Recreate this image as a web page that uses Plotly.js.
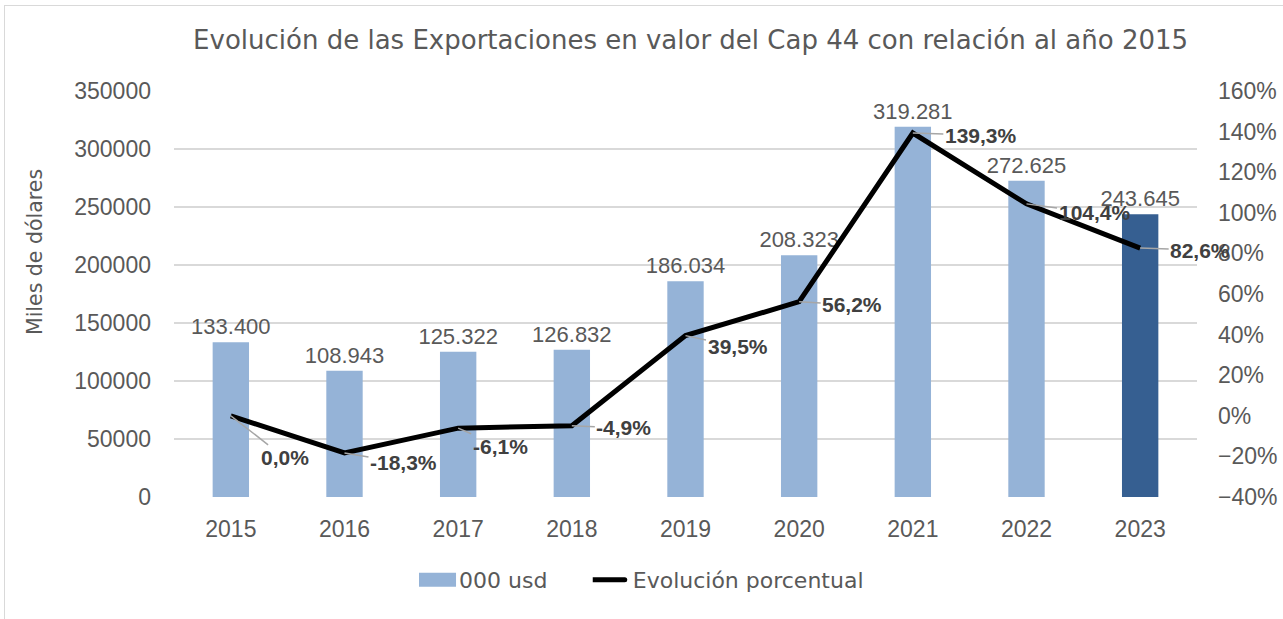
<!DOCTYPE html>
<html>
<head>
<meta charset="utf-8">
<script src="https://cdn.plot.ly/plotly-3.0.1.min.js"></script>
<style>
html,body{margin:0;padding:0;background:#fff;overflow:hidden;}
#wrap{position:absolute;left:0;top:0;width:1283px;height:619px;overflow:hidden;}
#frame{position:absolute;left:4px;top:5px;width:1400px;height:700px;border:1px solid #d9d9d9;box-sizing:border-box;pointer-events:none;}
#chart{position:absolute;left:0;top:0;width:1283px;height:619px;}
</style>
</head>
<body>
<div id="wrap"><div id="chart"></div><div id="frame"></div></div>
<script>
const years = [2015, 2016, 2017, 2018, 2019, 2020, 2021, 2022, 2023];
const valores = [133400, 108943, 125322, 126832, 186034, 208323, 319281, 272625, 243645];
const evolucion = [0.000, -0.183, -0.061, -0.049, 0.395, 0.562, 1.393, 1.044, 0.826];
const labelOffsetX = [54, 59, 42, 52, 52, 53, 68, 68, 60];
const labelOffsetY = [42, 10, 18, 2, 11, 3, 2, 9, 2];

const NUMFONT = '"Liberation Sans", Arial, sans-serif';
const TXTFONT = '"DejaVu Sans", sans-serif';
const GRAY = '#595959';

const barColors = valores.map((v, i) => i === valores.length - 1 ? '#365F91' : '#95B3D7');

const bars = {
  type: 'bar', name: '000 usd', x: years, y: valores,
  marker: {color: barColors},
  width: 0.32,
  texttemplate: '%{y:,.0f}', textposition: 'outside', constraintext: 'none',
  textfont: {family: NUMFONT, size: 22, color: GRAY},
  cliponaxis: false,
  legend: 'legend',
  hoverinfo: 'none'
};
const line = {
  type: 'scatter', mode: 'lines', name: 'Evolución porcentual',
  x: years, y: evolucion, yaxis: 'y2',
  line: {color: '#000000', width: 5},
  legend: 'legend2',
  hoverinfo: 'none'
};

const annotations = years.map((yr, i) => ({
  x: yr, y: evolucion[i], xref: 'x', yref: 'y2',
  text: '<b>' + (evolucion[i] * 100).toFixed(1).replace('.', ',') + '%</b>',
  showarrow: true, arrowhead: 0, arrowwidth: 1.5, arrowcolor: '#a6a6a6',
  ax: labelOffsetX[i], ay: labelOffsetY[i],
  font: {family: NUMFONT, size: 21, color: '#404040'}
}));
annotations.push({
  text: 'Miles de dólares', xref: 'paper', yref: 'paper', x: -0.136, y: 0.603,
  xanchor: 'center', yanchor: 'middle', textangle: -90, showarrow: false,
  font: {family: TXTFONT, size: 20.5, color: GRAY}
});

const legendStyle = {orientation: 'h', xref: 'container', yref: 'container', xanchor: 'left',
  y: 0.063, yanchor: 'middle', font: {family: TXTFONT, size: 22, color: GRAY}, bgcolor: 'rgba(0,0,0,0)'};

const layout = {
  width: 1283, height: 619,
  paper_bgcolor: '#ffffff', plot_bgcolor: '#ffffff',
  separators: ',.',
  margin: {l: 174, r: 86, t: 91, b: 122},
  font: {family: NUMFONT, color: GRAY},
  title: {text: 'Evolución de las Exportaciones en valor del Cap 44 con relación al año 2015',
          font: {family: TXTFONT, size: 26, color: GRAY},
          x: 0.505, xanchor: 'center', xref: 'paper', y: 0.935, yanchor: 'middle', yref: 'container'},
  showlegend: true,
  legend: Object.assign({}, legendStyle, {x: 0.3266}),
  legend2: Object.assign({}, legendStyle, {x: 0.462}),
  xaxis: {range: [2014.5, 2023.5], tickmode: 'array', tickvals: years, ticktext: years.map(String),
          showgrid: false, showline: false, zeroline: false,
          tickfont: {family: NUMFONT, size: 23, color: GRAY}, ticks: '', ticklabelstandoff: 16},
  yaxis: {range: [0, 350000], dtick: 50000, tickformat: 'd', showgrid: true, gridcolor: '#d9d9d9', gridwidth: 1.5,
          zeroline: false, showline: false, ticks: '', ticklabelstandoff: 22,
          tickfont: {family: NUMFONT, size: 23, color: GRAY}},
  yaxis2: {range: [-0.4, 1.6], dtick: 0.2, tickformat: '.0%', overlaying: 'y', side: 'right',
           showgrid: false, zeroline: false, showline: false, ticks: '', ticklabelstandoff: 20,
           tickfont: {family: NUMFONT, size: 23, color: GRAY}},
  annotations: annotations
};

Plotly.newPlot('chart', [bars, line], layout, {displayModeBar: false, staticPlot: true}).then(function () {
  // widen the legend swatches to look like the original
  document.querySelectorAll('#chart .legendpoints path').forEach(function (p) {
    const d = p.getAttribute('d') || '';
    if (/^M6,6H-6V-6H6Z$/.test(d)) p.setAttribute('d', 'M17,7H-33V-7H17Z');
  });
  document.querySelectorAll('#chart .legendlines path').forEach(function (p) {
    p.setAttribute('d', 'M-20,0h52');
    p.style.strokeLinecap = 'round';
  });
});
</script>
</body>
</html>
